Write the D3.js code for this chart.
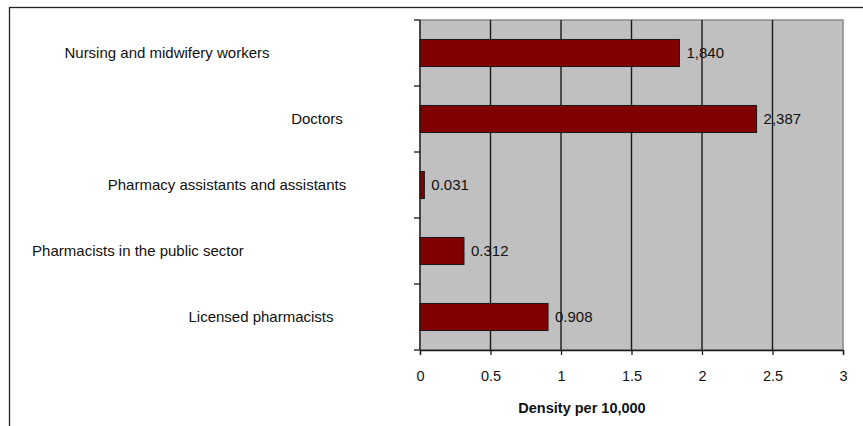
<!DOCTYPE html>
<html>
<head>
<meta charset="utf-8">
<script src="https://cdn.jsdelivr.net/npm/d3@7"></script>
<style>
  body { margin: 0; background: #fff; }
  svg { display: block; font-family: "Liberation Sans", Arial, sans-serif; }
</style>
</head>
<body>
<div id="container"></div>
<script>
/* DATA */
const categories = ["Nursing and midwifery workers", "Doctors", "Pharmacy assistants and assistants",
                    "Pharmacists in the public sector", "Licensed pharmacists"];
const values = [1.840, 2.387, 0.031, 0.312, 0.908];
const valueLabels = ["1,840", "2,387", "0.031", "0.312", "0.908"];
const xTicks = [0, 0.5, 1, 1.5, 2, 2.5, 3];
// where each category label is centred (the original wraps them in uneven boxes)
const labelCenters = [167, 317, 227, 138, 261];

const width = 863, height = 426;
const margin = {top: 20, right: 20, bottom: 76, left: 420};
const fontSize = 15;

const svg = d3.select("#container")
  .append("svg")
  .attr("width", width)
  .attr("height", height);

// outer frame
svg.append("rect")
  .attr("x", 9.5).attr("y", 7.5)
  .attr("width", width + 10).attr("height", height + 10)
  .attr("fill", "none")
  .attr("stroke", "#222")
  .attr("stroke-width", 1.3);

/* SCALES */
const xScale = d3.scaleLinear()
  .domain([0, 3])
  .range([margin.left, width - margin.right]);

const yScale = d3.scaleBand()
  .domain(categories)
  .range([margin.top, height - margin.bottom])
  .paddingInner(0.59)
  .paddingOuter(0.295);

const yEdges = d3.scaleLinear()
  .domain([0, categories.length])
  .range([margin.top, height - margin.bottom]);

// plot background
svg.append("rect")
  .attr("x", xScale(0)).attr("y", margin.top)
  .attr("width", xScale(3) - xScale(0))
  .attr("height", height - margin.bottom - margin.top)
  .attr("fill", "#c0c0c0")
  .attr("stroke", "#8a8a8a")
  .attr("stroke-width", 1.5);

// grid lines
svg.append("g")
  .selectAll("line")
  .data(xTicks.slice(1, -1))
  .join("line")
  .attr("x1", d => xScale(d)).attr("x2", d => xScale(d))
  .attr("y1", margin.top).attr("y2", height - margin.bottom)
  .attr("stroke", "#1a1a1a")
  .attr("stroke-width", 1.4);

// x axis
const xAxis = svg.append("g")
  .attr("transform", `translate(0,${height - margin.bottom})`)
  .call(d3.axisBottom(xScale).tickValues(xTicks).tickSize(5).tickPadding(16).tickFormat(d3.format("")));
xAxis.select(".domain").attr("stroke", "#1a1a1a").attr("stroke-width", 1.3);
xAxis.selectAll(".tick line").attr("stroke", "#1a1a1a").attr("stroke-width", 1.3);
xAxis.selectAll("text").attr("font-size", 14.5).attr("fill", "#111")
  .attr("font-family", "'Liberation Sans', Arial, sans-serif");

// y axis line and ticks between categories
svg.append("line")
  .attr("x1", xScale(0)).attr("x2", xScale(0))
  .attr("y1", margin.top).attr("y2", height - margin.bottom)
  .attr("stroke", "#1a1a1a").attr("stroke-width", 1.3);
svg.append("g")
  .selectAll("line")
  .data(d3.range(categories.length + 1))
  .join("line")
  .attr("x1", xScale(0) - 6).attr("x2", xScale(0))
  .attr("y1", d => yEdges(d)).attr("y2", d => yEdges(d))
  .attr("stroke", "#1a1a1a").attr("stroke-width", 1.3);

// category labels
svg.append("g")
  .selectAll("text")
  .data(categories)
  .join("text")
  .attr("x", (d, i) => labelCenters[i])
  .attr("y", d => yScale(d) + yScale.bandwidth() / 2)
  .attr("dy", "0.35em")
  .attr("text-anchor", "middle")
  .attr("font-size", fontSize)
  .attr("fill", "#111")
  .text(d => d);

/* BARS */
svg.append("g")
  .selectAll("rect")
  .data(values)
  .join("rect")
  .attr("x", xScale(0))
  .attr("y", (d, i) => yScale(categories[i]))
  .attr("width", d => xScale(d) - xScale(0))
  .attr("height", yScale.bandwidth())
  .attr("fill", "#800000")
  .attr("stroke", "#1a1a1a")
  .attr("stroke-width", 1);

// value labels
svg.append("g")
  .selectAll("text")
  .data(values)
  .join("text")
  .attr("x", d => xScale(d) + 7)
  .attr("y", (d, i) => yScale(categories[i]) + yScale.bandwidth() / 2)
  .attr("dy", "0.35em")
  .attr("font-size", fontSize)
  .attr("fill", "#111")
  .text((d, i) => valueLabels[i]);

// axis title
svg.append("text")
  .attr("x", 582)
  .attr("y", 413)
  .attr("text-anchor", "middle")
  .attr("font-size", 14.5)
  .attr("font-weight", "bold")
  .attr("fill", "#111")
  .text("Density per 10,000");
</script>
</body>
</html>
